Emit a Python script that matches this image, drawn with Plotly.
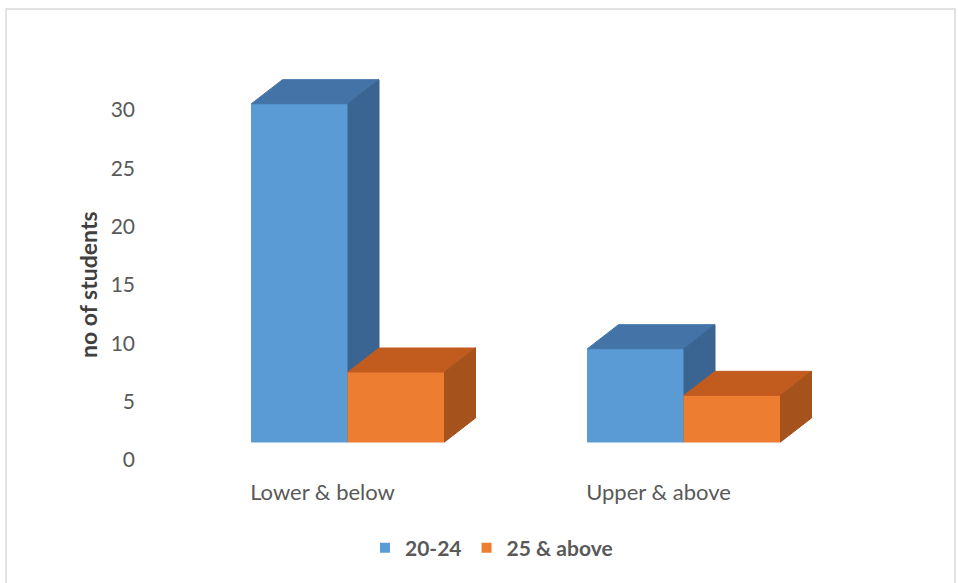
import plotly.graph_objects as go

# ---- data ----
categories = ["Lower & below", "Upper & above"]
series_names = ["20-24", "25 & above"]
values_20_24 = [29, 8]
values_25_above = [6, 4]
y_ticks = [0, 5, 10, 15, 20, 25, 30]

# ---- style / geometry constants ----
W, H = 958, 583
L, R, T, B = 136, 948, 20, 470          # plot area in pixels
PX_PER_CAT = 336.0                       # pixels between category centres
CAT0_PX = 348.0                          # pixel x of first category centre
PX_PER_UNIT = 11.667                     # pixels per y unit
Y0_AXIS_PX = 460.0                       # pixel y of tick 0
Y0_BAR_PX = 442.0                        # pixel y of bar front base (3D offset)
BAR_W = 96.5 / PX_PER_CAT                # bar width in x units
DX = 31.0 / PX_PER_CAT                   # depth offset x
DY = 24.0 / PX_PER_UNIT                  # depth offset y
LABEL_SHIFT = -25.5 / PX_PER_CAT

colors = {
    "20-24": ("#5B9BD5", "#4473A8", "#3A6592"),
    "25 & above": ("#ED7D31", "#C25B1E", "#A6521C"),
}

xrange_ = [(L - CAT0_PX) / PX_PER_CAT, (R - CAT0_PX) / PX_PER_CAT]
y1range = [(Y0_AXIS_PX - B) / PX_PER_UNIT, (Y0_AXIS_PX - T) / PX_PER_UNIT]
y2range = [(Y0_BAR_PX - B) / PX_PER_UNIT, (Y0_BAR_PX - T) / PX_PER_UNIT]


def px_x(p):
    return (p - L) / (R - L)


def px_y(p):
    return (B - p) / (B - T)


fig = go.Figure()


def poly(xs, ys, color):
    fig.add_trace(go.Scatter(
        x=xs + [xs[0]], y=ys + [ys[0]], fill="toself", fillcolor=color,
        mode="lines", line=dict(color=color, width=1), yaxis="y2",
        showlegend=False, hoverinfo="skip"))


series = [(series_names[0], values_20_24, -1), (series_names[1], values_25_above, 0)]
for i, cat in enumerate(categories):
    for name, vals, off in series:
        front, top, side = colors[name]
        v = vals[i]
        xl = i + off * BAR_W if off < 0 else i
        xr = xl + BAR_W
        poly([xl, xr, xr, xl], [0, 0, v, v], front)
        poly([xl, xr, xr + DX, xl + DX], [v, v, v + DY, v + DY], top)
        poly([xr, xr + DX, xr + DX, xr], [0, DY, v + DY, v], side)

# legend entries
for name in series_names:
    fig.add_trace(go.Scatter(
        x=[None], y=[None], mode="markers", name=name,
        marker=dict(symbol="square", size=10, color=colors[name][0]),
        showlegend=True))

fig.update_layout(
    width=W, height=H,
    margin=dict(l=L, r=W - R, t=T, b=H - B),
    paper_bgcolor="white", plot_bgcolor="white",
    font=dict(family="Lato, 'Liberation Sans Narrow', sans-serif", color="#595959"),
    xaxis=dict(range=xrange_, showgrid=False, zeroline=False, showline=False,
               tickmode="array", tickvals=[i + LABEL_SHIFT for i in range(len(categories))],
               ticktext=categories, ticks="", tickfont=dict(size=22, color="#595959"),
               ticklabelstandoff=7, fixedrange=True),
    yaxis=dict(range=y1range, showgrid=False, zeroline=False, showline=False,
               tickmode="array", tickvals=y_ticks, ticks="",
               tickfont=dict(size=21, color="#595959"), fixedrange=True),
    yaxis2=dict(range=y2range, overlaying="y", visible=False, fixedrange=True),
    showlegend=True,
    legend=dict(orientation="h", xref="container", yref="container",
                x=491.5 / W, xanchor="center", y=1 - 548 / H, yanchor="middle",
                font=dict(size=21, color="#595959", weight="bold"),
                bgcolor="rgba(0,0,0,0)"),
    annotations=[dict(text="<b>no of students</b>", textangle=-90,
                      xref="paper", yref="paper", x=px_x(88), y=px_y(285),
                      xanchor="center", yanchor="middle",
                      showarrow=False, font=dict(size=23, color="#404040"))],
    shapes=[dict(type="rect", xref="paper", yref="paper",
                 x0=px_x(6), x1=px_x(955), y0=px_y(600), y1=px_y(9),
                 line=dict(color="#D9D9D9", width=1.5), layer="below")],
)

fig.write_html("out.html")
